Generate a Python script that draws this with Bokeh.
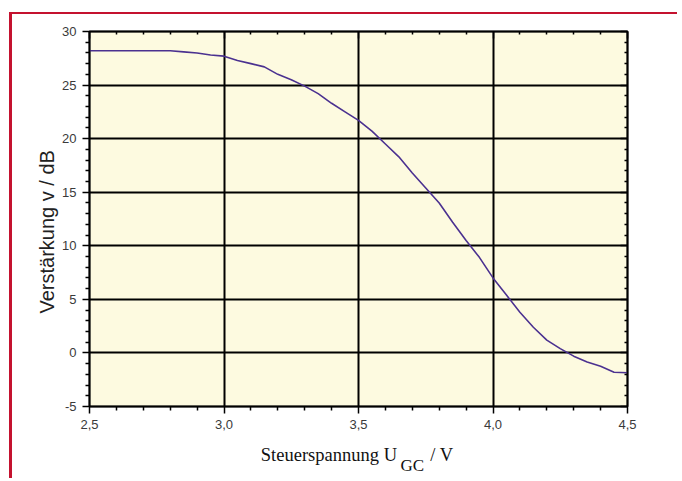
from bokeh.plotting import figure
from bokeh.models import FixedTicker, LinearAxis, Range1d, Title
from bokeh.embed import file_html
from bokeh.resources import INLINE

# Data
u_gc = [2.5, 2.55, 2.6, 2.65, 2.7, 2.75, 2.8, 2.85, 2.9, 2.95, 3.0, 3.05, 3.1, 3.15,
        3.2, 3.25, 3.3, 3.35, 3.4, 3.45, 3.5, 3.55, 3.6, 3.65, 3.7, 3.75, 3.8, 3.85,
        3.9, 3.95, 4.0, 4.05, 4.1, 4.15, 4.2, 4.25, 4.3, 4.35, 4.4, 4.45, 4.5]
gain_db = [28.2, 28.2, 28.2, 28.2, 28.2, 28.2, 28.2, 28.1, 28.0, 27.8, 27.7, 27.3, 27.0, 26.7,
           26.0, 25.5, 24.9, 24.2, 23.3, 22.5, 21.7, 20.7, 19.5, 18.3, 16.8, 15.4, 14.0, 12.2,
           10.5, 8.9, 7.0, 5.4, 3.8, 2.4, 1.2, 0.4, -0.3, -0.85, -1.25, -1.8, -1.85]

x_major = [2.5, 3.0, 3.5, 4.0, 4.5]
x_minor = [2.6, 2.7, 2.8, 2.9, 3.1, 3.2, 3.3, 3.4, 3.6, 3.7, 3.8, 3.9, 4.1, 4.2, 4.3, 4.4]
x_labels = {2.5: "2,5", 3.0: "3,0", 3.5: "3,5", 4.0: "4,0", 4.5: "4,5"}
y_major = [-5, 0, 5, 10, 15, 20, 25, 30]
y_minor = [v for v in range(-5, 31) if v % 5 != 0]
y_labels = {-5: "-5", 0: "0", 5: "5", 10: "10", 15: "15", 20: "20", 25: "25", 30: "30"}

y_title = "Verstärkung v / dB"
# x-axis title "Steuerspannung U_GC / V", split into its main and subscript parts
xtitle_main_pos = [3.39, 3.81]
xtitle_main_text = {3.39: "Steuerspannung U", 3.81: "/ V"}
xtitle_sub_pos = [3.70]
xtitle_sub_text = {3.70: "GC"}

RED = "#c4122f"
BG = "#fdfae0"
LINE = "#4b3190"
TICKFONT = "Liberation Sans"
SERIF = "Liberation Serif"

W, H = 668, 466
p = figure(width=W, height=H, x_range=Range1d(2.5, 4.5), y_range=Range1d(-5, 30),
           output_backend="svg", toolbar_location=None,
           min_border_left=77, min_border_top=17, min_border_right=53, min_border_bottom=74,
           background_fill_color=BG, border_fill_color="white")
p.styles = {"margin-left": "9px", "margin-top": "12px",
            "border-left": f"3px solid {RED}", "border-top": f"2px solid {RED}"}

p.outline_line_color = "black"
p.outline_line_width = 2

xt = FixedTicker(ticks=x_major, minor_ticks=x_minor)
yt = FixedTicker(ticks=y_major, minor_ticks=y_minor)

p.xaxis[0].ticker = xt
p.xaxis[0].major_label_overrides = x_labels
p.yaxis[0].ticker = yt
p.yaxis[0].major_label_overrides = y_labels

p.xgrid.ticker = xt
p.ygrid.ticker = yt
for g in (p.xgrid[0], p.ygrid[0]):
    g.grid_line_color = "black"
    g.grid_line_width = 2

def style_axis(ax, outside=True):
    ax.axis_line_color = "black"
    ax.axis_line_width = 1.5
    ax.major_tick_line_color = "black"
    ax.minor_tick_line_color = "black"
    ax.major_tick_line_width = 1.5
    ax.minor_tick_line_width = 1.5
    if outside:
        ax.major_tick_out = 7
        ax.major_tick_in = 0
        ax.minor_tick_out = 4
        ax.minor_tick_in = 0
    else:
        ax.major_tick_out = 0
        ax.major_tick_in = 7
        ax.minor_tick_out = 0
        ax.minor_tick_in = 3
    ax.major_label_text_font = TICKFONT
    ax.major_label_text_font_size = "13px"
    ax.major_label_text_color = "#3a3a3a"
    ax.major_label_standoff = 6

style_axis(p.xaxis[0])
style_axis(p.yaxis[0])

top = LinearAxis(ticker=xt)
right = LinearAxis(ticker=yt)
for ax in (top, right):
    style_axis(ax, outside=False)
    ax.major_label_text_color = None
    ax.major_label_text_font_size = "1px"
    ax.major_label_standoff = 0
p.add_layout(top, "above")
p.add_layout(right, "right")

# y-axis title
p.add_layout(Title(text=y_title, align="left", offset=93, text_font=TICKFONT,
                   text_font_size="20px", text_font_style="normal",
                   text_color="#222222", standoff=4), "left")

def title_axis(ticks, overrides, size, standoff):
    ax = LinearAxis(ticker=FixedTicker(ticks=ticks, minor_ticks=[]),
                    major_label_overrides=overrides)
    ax.axis_line_color = None
    ax.major_tick_line_color = None
    ax.minor_tick_line_color = None
    ax.major_tick_out = 0
    ax.major_tick_in = 0
    ax.minor_tick_out = 0
    ax.minor_tick_in = 0
    ax.major_label_text_font = SERIF
    ax.major_label_text_font_size = size
    ax.major_label_text_color = "#111111"
    ax.major_label_standoff = standoff
    return ax

p.add_layout(title_axis(xtitle_main_pos, xtitle_main_text, "18.5px", 13), "below")
p.add_layout(title_axis(xtitle_sub_pos, xtitle_sub_text, "17px", -12), "below")

p.line(u_gc, gain_db, line_color=LINE, line_width=1.6)

open("out.html", "w").write(file_html(p, INLINE))
